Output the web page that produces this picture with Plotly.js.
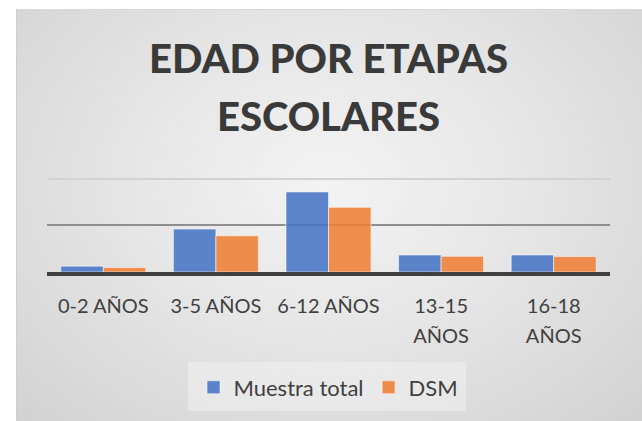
<!DOCTYPE html>
<html>
<head>
<meta charset="utf-8">
<script src="https://cdn.plot.ly/plotly-3.0.1.min.js"></script>
<style>
  html, body { margin: 0; padding: 0; background: #ffffff; }
  #wrap { position: relative; width: 642px; height: 421px; overflow: hidden; }
  #bg {
    position: absolute; left: 16px; top: 9px; width: 626px; height: 412px;
    background: radial-gradient(ellipse at 50% 42%, #f3f3f3 0%, #e6e6e6 45%, #d2d2d2 100%);
    border-left: 1px solid #cfcfcf; border-top: 1px solid #d9d9d9; box-sizing: border-box;
  }
  #chart { position: absolute; left: 0; top: 0; width: 642px; height: 421px; }
</style>
</head>
<body>
<div id="wrap">
  <div id="bg"></div>
  <div id="chart"></div>
</div>
<script>
const categories = ["0-2 AÑOS", "3-5 AÑOS", "6-12 AÑOS", "13-15<br>AÑOS", "16-18<br>AÑOS"];
const muestraTotal = [2.5, 18.4, 34.3, 7.3, 7.3];
const dsm = [1.9, 15.5, 27.7, 6.7, 6.6];
const seriesNames = ["Muestra total", "DSM"];
const gridValues = [0, 40];
const midGridValues = [20];

const font = "Lato, 'Open Sans', sans-serif";
const textColor = "#404040";

const traces = [
  {
    type: "bar", x: categories, y: muestraTotal, name: seriesNames[0],
    marker: { color: "rgba(68,114,196,0.86)", line: { color: "rgba(255,255,255,0.55)", width: 1 } }
  },
  {
    type: "bar", x: categories, y: dsm, name: seriesNames[1],
    marker: { color: "rgba(237,125,49,0.86)", line: { color: "rgba(255,255,255,0.55)", width: 1 } }
  }
];

const layout = {
  width: 642, height: 421,
  paper_bgcolor: "rgba(0,0,0,0)",
  plot_bgcolor: "rgba(0,0,0,0)",
  margin: { l: 47, r: 32, t: 174, b: 149 },
  barmode: "group",
  bargap: 0.245,
  bargroupgap: 0,
  showlegend: true,
  title: {
    text: "EDAD POR ETAPAS<br>ESCOLARES",
    font: { family: font, size: 40, color: "#3a3a3a", weight: 900 },
    x: 0.5, xref: "paper", xanchor: "center",
    y: 0.826, yref: "container", yanchor: "middle"
  },
  xaxis: {
    type: "category",
    showgrid: false,
    showline: true, linecolor: "#404040", linewidth: 4,
    ticks: "",
    ticklabelstandoff: 13,
    tickfont: { family: font, size: 20, color: textColor },
    fixedrange: true
  },
  yaxis: {
    range: [0, 42],
    tickmode: "array", tickvals: gridValues,
    showgrid: true, gridcolor: "#d2d2d2", gridwidth: 2,
    minor: { tickmode: "array", tickvals: midGridValues, showgrid: true, gridcolor: "#8f8f8f", gridwidth: 2, ticks: "" },
    zeroline: false,
    showticklabels: false,
    ticks: "",
    fixedrange: true
  },
  legend: {
    orientation: "h",
    x: 0.5, xanchor: "center", xref: "paper",
    y: 0.0796, yanchor: "middle", yref: "container",
    bgcolor: "rgba(240,240,240,0.55)",
    borderwidth: 0,
    font: { family: font, size: 22, color: textColor }
  }
};

const gd = document.getElementById("chart");
Plotly.newPlot(gd, traces, layout, { displayModeBar: false, staticPlot: true }).then(function () {
  // Wider line spacing, as in the reference, for wrapped tick labels and the title
  gd.querySelectorAll(".xtick text").forEach(function (t) {
    t.querySelectorAll("tspan.line").forEach(function (l, i) { if (i > 0) l.setAttribute("dy", "30px"); });
  });
  const title = gd.querySelector(".gtitle");
  if (title) {
    title.querySelectorAll("tspan.line").forEach(function (l, i) { if (i > 0) l.setAttribute("dy", "58px"); });
  }
  // Slightly larger legend swatches and padded legend box
  gd.querySelectorAll(".legendpoints path").forEach(function (p) {
    p.setAttribute("d", "M6.5,6.5H-6.5V-6.5H6.5Z");
  });
  const bg = gd.querySelector(".legend rect.bg");
  if (bg) {
    const x = parseFloat(bg.getAttribute("x") || 0), y = parseFloat(bg.getAttribute("y") || 0);
    const w = parseFloat(bg.getAttribute("width")), h = parseFloat(bg.getAttribute("height"));
    bg.setAttribute("x", x - 6); bg.setAttribute("width", w + 8);
    bg.setAttribute("y", y - 4); bg.setAttribute("height", h + 7);
  }
});
</script>
</body>
</html>
